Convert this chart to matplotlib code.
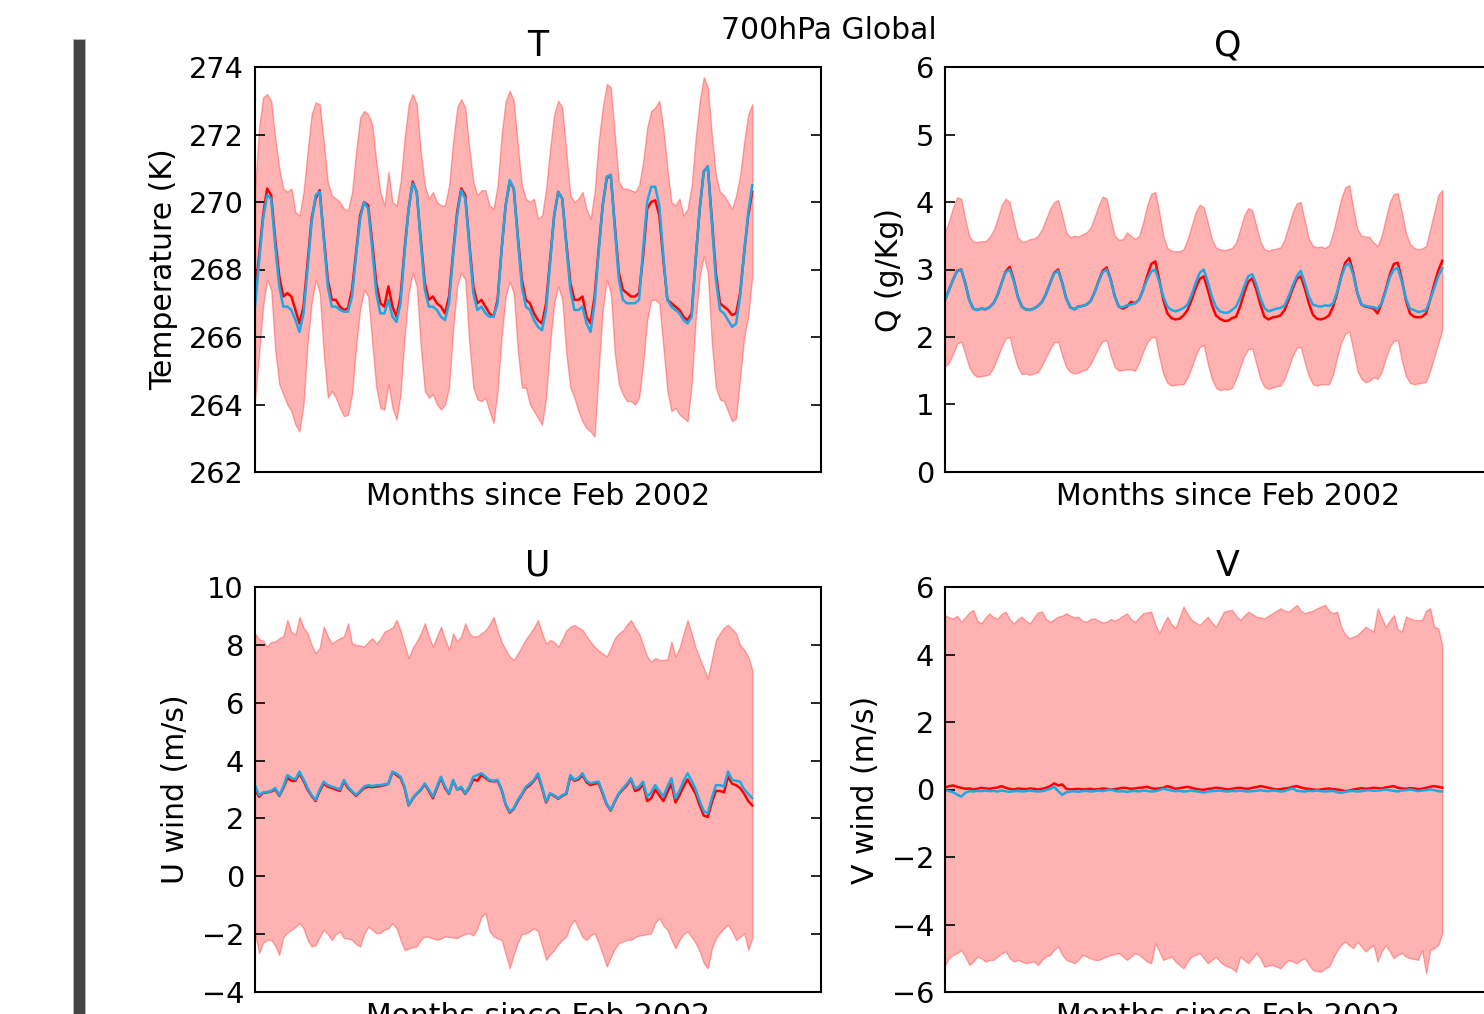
import numpy as np
import matplotlib.pyplot as plt
from matplotlib.patches import Rectangle

# monthly global means at 700hPa, two datasets (red / blue) plus spread band
T_red = [267.3, 268.4, 269.6, 270.4, 270.2, 268.9, 267.8, 267.2, 267.3, 267.2, 266.8, 266.4,
         266.9, 268.2, 269.5, 270.1, 270.35, 269.0, 267.7, 267.1, 267.1, 266.9, 266.8, 266.85,
         267.4, 268.5, 269.6, 270.0, 269.9, 268.8, 267.6, 267.0, 266.9, 267.5, 266.9, 266.6,
         267.2, 268.6, 269.8, 270.6, 270.3, 268.9, 267.6, 267.1, 267.2, 267.0, 266.9, 266.7,
         267.2, 268.5, 269.7, 270.4, 270.2, 268.8, 267.5, 267.0, 267.1, 266.9, 266.7, 266.6,
         267.1, 268.6, 269.9, 270.6, 270.4, 269.0, 267.7, 267.1, 267.0, 266.7, 266.5, 266.4,
         267.0, 268.3, 269.6, 270.3, 270.1, 268.8, 267.6, 267.1, 267.1, 267.2, 266.6, 266.4,
         267.2, 268.6, 269.9, 270.7, 270.8, 269.3, 267.9, 267.4, 267.3, 267.2, 267.2, 267.3,
         268.4, 269.8, 270.0, 270.05, 269.6, 268.3, 267.1, 267.0, 266.9, 266.8, 266.6, 266.5,
         266.7, 268.3, 269.8, 270.9, 271.05, 269.5, 267.9, 267.0, 266.9, 266.8, 266.65, 266.7,
         267.3, 268.5, 269.6, 270.3]
T_blue = [266.9, 268.2, 269.5, 270.2, 270.1, 268.7, 267.5, 266.9, 266.9, 266.8, 266.5, 266.15,
          266.7, 268.0, 269.4, 270.2, 270.3, 268.9, 267.5, 266.9, 266.9, 266.8, 266.75, 266.75,
          267.2, 268.4, 269.5, 270.0, 269.8, 268.6, 267.3, 266.7, 266.7, 267.1, 266.6, 266.45,
          267.0, 268.5, 269.8, 270.55, 270.3, 268.8, 267.4, 266.9, 266.9, 266.8, 266.6, 266.5,
          267.0, 268.4, 269.6, 270.35, 270.1, 268.7, 267.3, 266.8, 266.9, 266.7, 266.6, 266.6,
          267.0, 268.6, 269.9, 270.65, 270.4, 268.9, 267.5, 266.9, 266.8, 266.5, 266.3, 266.2,
          266.8, 268.2, 269.6, 270.3, 270.1, 268.7, 267.4, 266.8, 266.8, 266.9, 266.4, 266.15,
          267.0, 268.5, 269.9, 270.75, 270.8, 269.2, 267.7, 267.1, 267.0, 267.0, 267.0, 267.1,
          268.6, 270.0, 270.45, 270.45, 269.9, 268.4, 267.1, 266.9, 266.8, 266.7, 266.5, 266.4,
          266.6, 268.3, 269.8, 270.9, 271.05, 269.4, 267.7, 266.8, 266.7, 266.5, 266.3, 266.4,
          267.2, 268.5, 269.7, 270.5]
T_upper = [270.4, 272.2, 273.1, 273.2, 273.0, 271.9, 271.0, 270.4, 270.3, 270.4, 269.7, 269.6,
           270.3, 271.5, 272.6, 272.95, 272.9, 271.8, 270.6, 270.2, 270.1, 270.0, 269.8, 269.75,
           270.3, 271.5, 272.5, 272.7, 272.6, 272.3, 271.2, 270.3, 269.9, 270.9, 270.0, 269.9,
           270.6, 271.9, 272.9, 273.2, 272.9, 271.5, 270.5, 270.1, 270.3, 270.0, 269.9, 269.9,
           270.5, 271.8, 272.8, 273.05, 272.8, 271.6, 270.6, 270.2, 270.35, 270.35, 269.9, 269.8,
           270.5, 272.0, 273.0, 273.3, 273.0, 271.7, 270.5, 270.1, 270.0, 270.1, 269.5, 269.6,
           270.4, 271.6, 272.6, 273.0, 272.8, 271.5, 270.2, 270.0, 270.1, 270.3, 269.8, 269.5,
           270.3, 271.8, 272.8, 273.5, 273.4, 272.0, 270.6, 270.4, 270.4, 270.35, 270.3, 270.5,
           271.2, 272.2, 272.7, 272.8, 273.0, 272.2, 271.0, 270.0, 269.9, 270.1, 269.6, 269.8,
           270.5, 271.9, 273.0, 273.7, 273.4, 272.0, 270.8, 270.3, 270.2, 270.0, 269.8, 270.2,
           270.8, 271.8, 272.6, 272.9]
T_lower = [264.1, 265.5, 266.9, 267.7, 267.4, 265.6, 264.6, 264.3, 264.0, 263.8, 263.4, 263.2,
           264.0, 265.8, 267.0, 267.7, 267.3, 265.5, 264.2, 264.4, 264.2, 263.9, 263.65, 263.7,
           264.3, 265.7, 266.8, 267.4, 267.2, 265.8, 264.5, 263.9, 263.85, 264.6, 263.9, 263.55,
           264.3, 266.0, 267.3, 267.9, 267.5, 265.7, 264.4, 264.2, 264.3, 264.0, 263.85, 264.0,
           264.5, 266.2, 267.5, 267.9, 267.7, 265.8, 264.5, 264.15, 264.1, 264.2, 263.8, 263.45,
           264.4, 266.0, 267.2, 267.64, 267.3, 265.6, 264.5, 264.5, 264.0, 263.8, 263.6, 263.4,
           264.2, 265.8, 267.0, 267.5, 267.1, 265.5, 264.5, 264.2, 263.8, 263.5, 263.3, 263.2,
           263.05, 265.0, 266.8, 267.7, 267.3, 265.5, 264.6, 264.3, 264.1, 264.1, 264.0, 264.2,
           265.2, 266.5, 267.1, 267.1, 267.0, 265.7, 264.4, 263.8, 263.9, 263.7, 263.6, 263.5,
           264.6, 266.5, 267.8, 268.4, 267.9, 265.8, 264.5, 264.15, 264.1, 263.8, 263.5, 263.6,
           264.8, 266.0, 266.6, 267.8]

Q_red = [2.55, 2.7, 2.85, 2.98, 3.0, 2.8, 2.55, 2.42, 2.4, 2.42, 2.41, 2.44,
         2.5, 2.62, 2.8, 2.97, 3.04, 2.85, 2.6, 2.45, 2.41, 2.4, 2.42, 2.46,
         2.52, 2.64, 2.8, 2.95, 3.0, 2.8, 2.57, 2.44, 2.41, 2.45, 2.46, 2.48,
         2.53, 2.66, 2.83, 2.98, 3.03, 2.85, 2.6, 2.45, 2.42, 2.45, 2.52, 2.5,
         2.55, 2.7, 2.9, 3.08, 3.12, 2.85, 2.55, 2.35, 2.28, 2.26, 2.27, 2.32,
         2.4, 2.55, 2.72, 2.86, 2.9, 2.7, 2.48, 2.32, 2.27, 2.24, 2.24, 2.28,
         2.3, 2.45, 2.65, 2.82, 2.87, 2.7, 2.48, 2.3, 2.26, 2.29, 2.3, 2.32,
         2.4, 2.55, 2.72, 2.86, 2.9, 2.72, 2.5, 2.33, 2.27, 2.26, 2.28, 2.32,
         2.45, 2.65, 2.9, 3.1, 3.17, 2.95, 2.65, 2.48, 2.45, 2.44, 2.42, 2.35,
         2.5, 2.7, 2.92, 3.08, 3.1, 2.85, 2.55, 2.35, 2.3, 2.29, 2.3, 2.35,
         2.55, 2.78, 2.98, 3.13]
Q_blue = [2.55, 2.7, 2.85, 2.97, 3.0, 2.8, 2.55, 2.42, 2.4, 2.42, 2.41, 2.44,
          2.5, 2.62, 2.8, 2.96, 3.0, 2.83, 2.6, 2.45, 2.41, 2.4, 2.42, 2.46,
          2.52, 2.64, 2.8, 2.94, 2.98, 2.8, 2.57, 2.44, 2.41, 2.45, 2.46, 2.48,
          2.53, 2.66, 2.82, 2.96, 3.0, 2.84, 2.6, 2.45, 2.44, 2.47, 2.48, 2.5,
          2.55, 2.7, 2.85, 2.97, 3.0, 2.82, 2.6, 2.45, 2.4, 2.38, 2.4, 2.43,
          2.48, 2.62, 2.8, 2.95, 3.0, 2.82, 2.6, 2.45, 2.38, 2.36, 2.36, 2.4,
          2.45, 2.58, 2.75, 2.9, 2.93, 2.78, 2.58, 2.43, 2.38, 2.4, 2.42, 2.43,
          2.47, 2.6, 2.76, 2.9, 2.98, 2.8, 2.6, 2.48, 2.46, 2.45, 2.47, 2.46,
          2.5, 2.67, 2.88, 3.05, 3.09, 2.92, 2.65, 2.48, 2.46, 2.45, 2.44, 2.42,
          2.5, 2.68, 2.88, 3.0, 3.02, 2.82, 2.57, 2.42, 2.4, 2.37, 2.38, 2.4,
          2.55, 2.72, 2.9, 3.02]
Q_upper = [3.55, 3.72, 3.92, 4.07, 4.05, 3.75, 3.5, 3.41, 3.41, 3.42, 3.42, 3.48,
           3.58, 3.75, 3.95, 4.05, 4.0, 3.72, 3.48, 3.41, 3.42, 3.45, 3.46, 3.5,
           3.6, 3.75, 3.9, 4.0, 4.03, 3.8, 3.55, 3.48, 3.5, 3.49, 3.52, 3.55,
           3.62, 3.78, 3.95, 4.08, 4.05, 3.75, 3.5, 3.44, 3.45, 3.55, 3.5, 3.45,
           3.5, 3.7, 3.95, 4.12, 4.15, 3.85, 3.5, 3.32, 3.28, 3.27, 3.27, 3.3,
           3.45, 3.65, 3.85, 3.96, 3.92, 3.7, 3.45, 3.33, 3.3, 3.29, 3.3, 3.32,
           3.4, 3.6, 3.8, 3.91, 3.88, 3.65, 3.42, 3.3, 3.28, 3.3, 3.31, 3.33,
           3.45, 3.65, 3.85, 3.98, 4.0, 3.72, 3.45, 3.35, 3.33, 3.34, 3.32, 3.36,
           3.55, 3.8, 4.05, 4.22, 4.25, 3.9, 3.6, 3.5, 3.49, 3.48, 3.4, 3.35,
           3.5, 3.75, 4.0, 4.12, 4.13, 3.85, 3.55, 3.38, 3.32, 3.3, 3.31, 3.35,
           3.6, 3.85, 4.1, 4.18]
Q_lower = [1.56, 1.62, 1.75, 1.9, 1.93, 1.75, 1.55, 1.45, 1.41, 1.42, 1.43, 1.45,
           1.55, 1.7, 1.85, 1.98, 2.0, 1.75, 1.55, 1.45, 1.46, 1.44, 1.46, 1.48,
           1.58, 1.7, 1.82, 1.92, 1.93, 1.72, 1.55, 1.48, 1.46, 1.47, 1.5, 1.52,
           1.6, 1.72, 1.85, 1.94, 1.95, 1.72, 1.55, 1.5, 1.51, 1.52, 1.52, 1.5,
           1.62, 1.78, 1.92, 1.99, 2.0, 1.7, 1.45, 1.32, 1.28, 1.29, 1.3, 1.3,
           1.4, 1.55, 1.72, 1.85, 1.88, 1.6, 1.38, 1.25, 1.21, 1.23, 1.22, 1.25,
           1.38, 1.55, 1.72, 1.82, 1.83, 1.6, 1.38, 1.26, 1.23, 1.25, 1.27, 1.28,
           1.38, 1.55, 1.72, 1.84, 1.85, 1.62, 1.42, 1.3, 1.28, 1.3, 1.3, 1.3,
           1.45, 1.7, 1.92, 2.05, 2.08, 1.8, 1.5, 1.38, 1.33, 1.35, 1.4, 1.38,
           1.48, 1.68, 1.85, 1.94, 1.95, 1.65, 1.42, 1.32, 1.3, 1.31, 1.32, 1.34,
           1.5, 1.7, 1.9, 2.1]

U_red = [3.0, 2.75, 2.88, 2.9, 2.93, 3.0, 2.78, 3.05, 3.4, 3.3, 3.3, 3.55,
         3.3, 3.0, 2.78, 2.6, 2.95, 3.2, 3.1, 3.05, 3.0, 2.95, 3.28, 3.05,
         2.92, 2.78, 2.92, 3.05, 3.1, 3.08, 3.1, 3.12, 3.15, 3.2, 3.6, 3.5,
         3.4, 3.05, 2.45, 2.68, 2.85, 2.98, 3.18, 2.95, 2.7, 3.05, 3.4, 3.05,
         2.85, 3.3, 3.0, 3.05, 2.85, 3.05, 3.35, 3.3, 3.5, 3.4, 3.3, 3.28,
         3.3, 2.98, 2.48, 2.2, 2.33, 2.6, 2.82, 3.05, 3.15, 3.3, 3.5, 3.05,
         2.55, 2.85, 2.78, 2.68, 2.78, 2.85, 3.45, 3.3, 3.35, 3.5, 3.25, 3.15,
         3.2, 3.22, 2.85, 2.48, 2.27, 2.58, 2.85, 3.0, 3.15, 3.35, 2.95, 3.0,
         3.2, 2.6, 2.7, 3.0, 2.8, 2.6, 2.9, 3.2, 2.55, 2.8, 3.1, 3.35,
         3.1, 2.85, 2.45, 2.1, 2.05, 2.55, 2.95, 2.95, 2.9, 3.45, 3.2, 3.15,
         3.05, 2.85, 2.6, 2.45]
U_blue = [3.15, 2.8, 2.9, 2.92, 2.95, 3.05, 2.8, 3.1, 3.5, 3.4, 3.35, 3.62,
          3.35, 3.05, 2.8, 2.64, 3.0, 3.27, 3.15, 3.1, 3.05, 3.0, 3.33, 3.1,
          2.95, 2.81, 2.95, 3.1, 3.15, 3.12, 3.15, 3.15, 3.18, 3.2, 3.62, 3.55,
          3.44, 3.1, 2.46, 2.7, 2.87, 3.0, 3.21, 3.0, 2.75, 3.1, 3.44, 3.1,
          2.87, 3.33, 3.0, 3.1, 2.87, 3.1, 3.44, 3.5, 3.56, 3.45, 3.33, 3.3,
          3.33, 3.0, 2.5, 2.23, 2.35, 2.64, 2.85, 3.1, 3.2, 3.33, 3.56, 3.1,
          2.58, 2.87, 2.8, 2.7, 2.8, 2.87, 3.5, 3.33, 3.4, 3.56, 3.3, 3.21,
          3.25, 3.27, 2.9, 2.5, 2.29, 2.6, 2.87, 3.04, 3.2, 3.39, 3.04, 3.1,
          3.27, 2.75, 2.9, 3.15, 2.95, 2.75, 3.1, 3.39, 2.7, 2.95, 3.3, 3.56,
          3.3, 3.0, 2.6, 2.25, 2.18, 2.7, 3.15, 3.15, 3.1, 3.62, 3.33, 3.3,
          3.27, 3.0, 2.85, 2.7]
U_upper = [8.4, 8.2, 8.15, 7.94, 8.1, 8.12, 8.23, 8.3, 8.86, 8.45, 8.35, 8.97,
           8.6, 8.4, 8.0, 7.71, 7.9, 8.63, 8.3, 8.05, 8.15, 8.23, 8.3, 8.75,
           8.05, 8.0, 7.98, 7.94, 8.1, 8.23, 8.05, 8.2, 8.46, 8.52, 8.6, 8.86,
           8.5, 8.0, 7.54, 7.9, 8.12, 8.4, 8.75, 8.3, 7.94, 8.3, 8.63, 8.2,
           7.83, 8.4, 8.12, 8.3, 8.75, 8.4, 8.29, 8.3, 8.4, 8.5, 8.7, 8.97,
           8.5, 8.1, 7.83, 7.6, 7.48, 7.7, 7.94, 8.2, 8.4, 8.6, 8.86, 8.4,
           8.05, 8.17, 8.1, 7.94, 8.2, 8.5, 8.63, 8.69, 8.6, 8.52, 8.3, 8.1,
           7.94, 7.8, 7.7, 7.6, 7.9, 8.23, 8.4, 8.5, 8.7, 8.86, 8.6, 8.4,
           8.0, 7.6, 7.42, 7.55, 7.48, 7.48, 7.5, 8.12, 7.6, 7.9, 8.4, 8.86,
           8.4, 7.9, 7.54, 7.2, 6.85, 7.5, 8.17, 8.4, 8.6, 8.69, 8.55, 8.4,
           8.0, 7.83, 7.6, 7.14]
U_lower = [-1.97, -2.66, -2.3, -2.2, -2.2, -2.4, -2.72, -2.1, -1.95, -1.85, -1.75, -1.62,
           -1.8, -2.2, -2.43, -2.38, -2.1, -1.85, -2.0, -2.2, -2.0, -1.91, -2.14, -2.15,
           -2.2, -2.35, -2.43, -2.0, -1.74, -1.85, -1.97, -1.95, -1.85, -1.8, -1.62, -1.8,
           -2.2, -2.55, -2.5, -2.45, -2.43, -2.2, -2.08, -2.1, -2.15, -2.2, -2.15, -2.08,
           -2.1, -2.12, -2.14, -2.05, -2.0, -1.97, -2.05, -1.8, -1.4, -1.28, -1.9, -2.08,
           -2.15, -2.2, -2.7, -3.18, -2.7, -2.3, -2.0, -1.97, -1.9, -1.8, -1.9, -2.4,
           -2.89, -2.7, -2.55, -2.35, -2.2, -2.08, -1.7, -1.51, -1.8, -2.1, -2.2, -2.05,
           -1.97, -2.3, -2.7, -3.12, -2.8, -2.5, -2.31, -2.25, -2.2, -2.2, -2.1, -2.05,
           -2.03, -2.0, -1.97, -1.6, -1.45, -1.7, -1.85, -2.2, -2.49, -2.2, -2.0, -1.91,
           -2.1, -2.31, -2.6, -3.0, -3.18, -2.5, -2.14, -1.95, -1.8, -1.68, -1.9, -2.2,
           -2.1, -1.97, -2.55, -2.14]

V_red = [0.05, 0.1, 0.12, 0.08, 0.05, 0.02, 0.03, 0.0, 0.02, 0.05, 0.03, 0.02,
         0.04, 0.06, 0.1, 0.05, 0.02, 0.0, 0.03, 0.02, 0.01, 0.03, 0.02, 0.0,
         0.02, 0.05, 0.1, 0.18, 0.12, 0.15, 0.02, 0.0, 0.01, 0.02, 0.0, 0.01,
         0.02, 0.0, 0.01, 0.03, 0.02, 0.0, 0.01, 0.03, 0.05, 0.04, 0.02, 0.03,
         0.05, 0.06, 0.08, 0.04, 0.02, 0.03, 0.05, 0.1, 0.06, 0.02, 0.04, 0.06,
         0.08, 0.05, 0.02, 0.0, -0.01, 0.02, 0.03, 0.05, 0.04, 0.02, 0.0, 0.02,
         0.04, 0.05, 0.03, 0.02, 0.05, 0.07, 0.1, 0.08, 0.05, 0.02, 0.0, 0.01,
         0.03, 0.04, 0.08, 0.1, 0.06, 0.03, 0.02, 0.0, -0.01, 0.0, 0.02, 0.03,
         0.01, 0.0, -0.02, -0.05, -0.03, 0.0, 0.02, 0.04, 0.02, 0.03, 0.05, 0.04,
         0.03, 0.06, 0.08, 0.1, 0.05, 0.03, 0.02, 0.04, 0.03, 0.01, 0.02, 0.05,
         0.08, 0.1, 0.08, 0.05]
V_blue = [-0.02, -0.05, -0.08, -0.15, -0.21, -0.1, -0.05, -0.06, -0.04, -0.05, -0.03, -0.05,
          -0.04, -0.06, -0.03, -0.05, -0.07, -0.05, -0.04, -0.06, -0.05, -0.03, -0.05, -0.06,
          -0.05, -0.02, 0.02, 0.08, -0.05, -0.16, -0.08, -0.06, -0.05, -0.07, -0.05, -0.04,
          -0.06, -0.05, -0.03, -0.05, -0.02, 0.0, -0.04, -0.06, -0.05, -0.07, -0.05, -0.04,
          -0.06, -0.03, -0.04, -0.06, -0.05, -0.02, 0.02, 0.0, -0.03, -0.05, -0.04, -0.06,
          -0.05, -0.03, -0.05, -0.07, -0.09, -0.06, -0.05, -0.04, -0.03, -0.05, -0.06, -0.04,
          -0.05, -0.03, -0.05, -0.06, -0.05, -0.04, -0.02, -0.04, -0.05, -0.03, -0.04, -0.06,
          -0.05, 0.0, 0.03, -0.04, -0.05, -0.06, -0.04, -0.05, -0.03, -0.05, -0.06, -0.05,
          -0.04, -0.08, -0.1, -0.07, -0.05, -0.04, -0.06, -0.05, -0.03, -0.02, -0.04, -0.03,
          -0.02, 0.0, -0.02, -0.04, -0.06, -0.03, -0.02, 0.0, -0.02, -0.05, -0.03, -0.02,
          0.0, -0.02, -0.05, -0.06]
V_upper = [5.17, 5.1, 5.07, 5.15, 4.97, 5.1, 5.25, 5.32, 5.0, 4.92, 5.1, 5.22,
           5.1, 5.07, 5.2, 5.27, 5.05, 4.92, 5.05, 5.12, 5.0, 4.92, 5.1, 5.25,
           5.27, 5.05, 4.97, 5.05, 5.12, 5.15, 5.22, 5.15, 5.1, 5.12, 5.0, 4.97,
           5.05, 5.07, 5.0, 4.95, 4.97, 5.05, 5.0, 5.07, 5.15, 5.22, 5.05, 4.97,
           5.1, 5.22, 5.25, 5.27, 4.9, 4.63, 4.9, 5.12, 4.9, 4.78, 5.1, 5.42,
           5.2, 5.02, 4.95, 4.87, 5.0, 5.12, 4.95, 4.82, 5.05, 5.27, 5.3, 5.32,
           5.15, 5.02, 5.15, 5.27, 5.2, 5.12, 5.1, 5.07, 5.15, 5.22, 5.3, 5.37,
           5.3, 5.27, 5.37, 5.47, 5.3, 5.22, 5.27, 5.3, 5.37, 5.42, 5.47, 5.3,
           5.22, 5.27, 4.82, 4.6, 4.48, 4.53, 4.58, 4.7, 4.82, 4.75, 4.68, 5.37,
           5.1, 4.82, 5.0, 5.17, 4.75, 4.68, 5.12, 5.07, 5.02, 5.02, 5.02, 5.3,
           5.37, 4.82, 4.78, 4.28]
V_lower = [-5.2, -5.0, -4.9, -4.85, -4.76, -4.95, -5.2, -5.1, -4.95, -5.0, -5.1, -5.05,
           -5.05, -4.95, -4.85, -4.8, -5.0, -5.1, -5.05, -5.1, -5.15, -5.12, -5.1, -5.2,
           -5.05, -4.95, -4.9, -4.75, -4.66, -4.9, -5.05, -5.1, -5.15, -5.05, -4.9, -4.95,
           -5.0, -5.05, -5.05, -5.0, -4.95, -4.9, -4.88, -4.85, -4.95, -5.05, -4.95, -4.85,
           -4.9, -5.0, -5.1, -5.15, -4.56, -4.8, -5.05, -5.0, -4.95, -5.1, -5.2, -5.3,
           -5.1, -4.95, -4.9, -4.85, -5.0, -5.15, -5.05, -4.95, -5.1, -5.2, -5.25, -5.3,
           -5.4, -4.95, -5.05, -5.15, -5.0, -4.85, -5.0, -5.25, -5.22, -5.2, -5.25, -5.3,
           -5.15, -5.05, -5.1, -5.15, -5.05, -5.0, -5.2, -5.35, -5.38, -5.4, -5.3, -5.25,
           -5.0, -4.76, -4.6, -4.51, -4.62, -4.7, -4.51, -4.65, -4.8, -4.7, -4.61, -5.1,
           -4.8, -4.61, -4.8, -5.0, -4.9, -4.85, -4.95, -5.0, -5.02, -5.05, -4.76, -5.45,
           -4.76, -4.7, -4.61, -4.26]

W, H = 1484, 1014
fig = plt.figure(figsize=(W / 100, H / 100), dpi=100)

# dark bar on the left edge of the screenshot
fig.patches.append(Rectangle((73 / W, 0), 12 / W, 1 - 39 / H, transform=fig.transFigure,
                             facecolor='#444444', edgecolor='#bbbbbb', linewidth=0.6))

fig.text(829 / W, 1 - 39 / H, '700hPa Global', ha='center', va='baseline', fontsize=21.5)

panels = [
    ('T', 'Temperature (K)', T_red, T_blue, T_upper, T_lower, (262, 274), 2, (255, 67)),
    ('Q', 'Q (g/Kg)', Q_red, Q_blue, Q_upper, Q_lower, (0, 6), 1, (945, 67)),
    ('U', 'U wind (m/s)', U_red, U_blue, U_upper, U_lower, (-4, 10), 2, (255, 587)),
    ('V', 'V wind (m/s)', V_red, V_blue, V_upper, V_lower, (-6, 6), 2, (945, 587)),
]

for name, ylab, red, blue, upper, lower, ylim, step, (px, py) in panels:
    ax = fig.add_axes([px / W, 1 - (py + 405) / H, 566 / W, 405 / H])
    x = np.arange(len(red))
    ax.fill_between(np.arange(len(upper)), lower, upper, color='r', alpha=0.3, linewidth=1)
    ax.plot(x, red, color='r', lw=1.8)
    ax.plot(np.arange(len(blue)), blue, color='#1ca8e6', lw=1.8)

    ax.set_xlim(0, 140)
    ax.set_ylim(*ylim)
    ax.set_yticks(np.arange(ylim[0], ylim[1] + 0.5 * step, step))
    ax.set_xticks([])
    ax.yaxis.set_ticks_position('both')
    ax.tick_params(axis='y', direction='in', length=7.5, width=1.2, pad=8, labelsize=20.7)
    for sp in ax.spines.values():
        sp.set_linewidth(1.5)

    ax.set_title(name, fontsize=25, pad=8)
    ax.set_xlabel('Months since Feb 2002', fontsize=21.5, labelpad=7)
    ax.set_ylabel(ylab, fontsize=21.5, labelpad=8)

fig.savefig('out.png', dpi=100)
